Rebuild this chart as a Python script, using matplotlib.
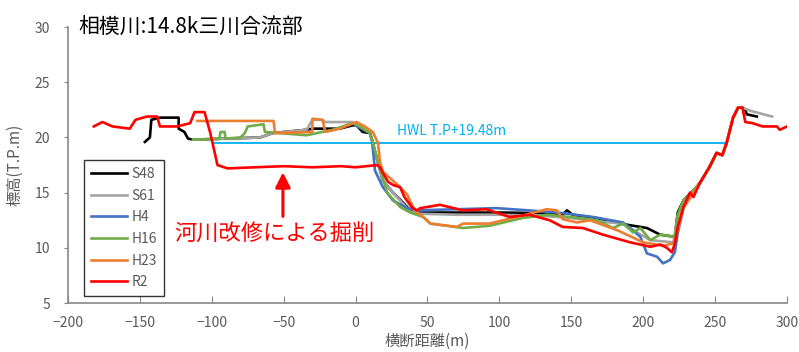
import matplotlib
matplotlib.use("Agg")
from matplotlib import pyplot as plt

plt.rcParams['font.family'] = ['Noto Sans CJK JP', 'DejaVu Sans']

# survey years and cross-section profiles (distance m, elevation T.P.m)
s48_x = [-146.5, -143, -142, -136, -123, -123, -119, -116.5, -113, -66.5, -57.5, -34, -30, -11, -2, 0.6, 5, 10, 12, 15,
         19, 26, 33, 38, 42.7, 70, 100, 130, 144, 147, 151, 168, 184, 202.6, 211.7, 222, 224, 228, 237, 240, 246, 251,
         255, 258, 262.5, 266, 269, 271, 272, 279]
s48_y = [19.6, 20.0, 21.6, 21.8, 21.8, 20.8, 20.5, 19.9, 19.8, 20.0, 20.4, 20.7, 20.8, 20.8, 21.1, 21.1, 20.5, 20.4, 19.5, 18.0,
         16.1, 15.0, 14.1, 13.4, 13.2, 13.2, 13.2, 13.15, 13.0, 13.4, 13.0, 12.7, 12.2, 11.8, 11.2, 11.0, 13.2, 14.3, 15.5, 16.0, 17.3, 18.6,
         18.4, 19.5, 21.8, 22.7, 22.7, 22.5, 22.1, 21.9]

s61_x = [-113, -66.5, -57.5, -34, -30, -23, -21, -2, 3, 10, 12, 15, 19, 26, 33, 38, 42.7, 70, 100, 130, 150, 168, 186,
         193, 205, 221, 224, 228, 237, 240, 246, 251, 255, 258, 262.5, 266, 269, 275, 289.6]
s61_y = [19.8, 20.0, 20.4, 20.7, 21.6, 21.6, 21.4, 21.4, 21.0, 20.4, 19.5, 18.0, 16.1, 15.0, 14.0, 13.3, 13.1, 13.0, 13.0, 12.9, 12.7, 12.4, 12.2,
         11.6, 10.7, 10.5, 12.8, 14.2, 15.4, 16.0, 17.3, 18.6, 18.4, 19.5, 21.8, 22.7, 22.7, 22.4, 21.9]

h4_x = [0, 10, 11.4, 13.5, 19, 26, 35.7, 42.7, 70, 98, 120, 144, 165, 186, 191, 198, 202.6, 209.6, 213.8, 218.6, 222, 224, 228,
        237, 240, 246, 251, 255, 258, 262.5, 266]
h4_y = [21.1, 20.4, 19.8, 17.0, 15.5, 14.3, 13.6, 13.4, 13.5, 13.6, 13.4, 13.15, 12.8, 12.3, 11.8, 11.0, 9.5, 9.2, 8.6, 8.9, 9.6, 11.3, 13.7,
        15.4, 16.0, 17.3, 18.6, 18.4, 19.5, 21.8, 22.7]

h16_x = [-113, -94.5, -94, -91, -90.5, -80, -77, -75, -64, -63, -34, -16, -2, 3, 10, 12, 15, 18, 22, 31, 38, 47, 52, 74.7, 93, 116,
         133, 149, 168, 179, 186, 193, 198, 205, 212, 222, 224, 228, 237, 240, 246, 251, 255, 258, 262.5, 266, 269]
h16_y = [19.8, 19.9, 20.5, 20.5, 19.9, 20.0, 20.4, 21.0, 21.2, 20.5, 20.2, 20.7, 21.3, 21.0, 20.4, 19.6, 18.0, 16.8, 15.0, 13.7, 13.2, 12.8, 12.2, 11.8, 12.0, 12.7,
         13.0, 12.8, 12.5, 11.8, 12.2, 11.4, 11.8, 10.7, 11.2, 11.0, 13.0, 14.3, 15.5, 16.0, 17.3, 18.6, 18.4, 19.5, 21.8, 22.7, 22.7]

h23_x = [-110, -57, -56, -30, -30, -23, -21, -11, 0.7, 6.5, 12, 15.6, 17, 19, 31, 36, 41, 47, 52, 70.5, 74.7, 93, 112, 133, 140,
         144, 154, 163, 182, 200, 214, 221, 223.5, 228, 237, 240, 246, 251, 255, 258, 262.5, 266, 269]
h23_y = [21.5, 21.5, 20.4, 20.5, 21.7, 21.6, 20.5, 20.8, 21.4, 21.0, 20.5, 19.5, 17.8, 16.9, 15.5, 14.8, 13.4, 12.8, 12.2, 11.9, 12.2, 12.2, 12.8, 13.5, 13.4,
         12.6, 12.3, 12.5, 11.6, 10.5, 10.2, 10.4, 11.3, 13.6, 15.4, 16.0, 17.3, 18.6, 18.4, 19.5, 21.8, 22.7, 22.7]

r2_x = [-182, -176, -169, -157, -153, -145, -138, -136, -124, -115, -112, -105, -101, -96, -89, -70, -50, -30, -10, 0, 15, 17,
        19, 22.5, 26, 31, 34, 39, 42.7, 45, 58.7, 74.7, 91, 107, 121, 135, 144, 158, 172, 191, 205, 212, 216.5, 220, 222,
        224, 228, 232.5, 235, 237, 239.5, 246, 251, 255, 258, 262.5, 266, 269, 271, 276, 283, 293, 295, 300]
r2_y = [21.0, 21.4, 21.0, 20.8, 21.6, 21.9, 21.9, 21.0, 21.0, 21.3, 22.3, 22.3, 20.4, 17.5, 17.2, 17.3, 17.4, 17.3, 17.4, 17.3, 17.5, 17.3,
        16.8, 16.0, 15.7, 15.5, 14.6, 13.7, 13.4, 13.6, 13.9, 13.4, 13.5, 12.8, 13.0, 12.5, 11.9, 11.8, 11.2, 10.5, 10.1, 10.3, 10.0, 9.6, 10.4,
        11.9, 13.7, 15.0, 14.6, 15.2, 15.9, 17.3, 18.6, 18.4, 19.5, 21.8, 22.7, 22.7, 21.4, 21.3, 21.0, 21.0, 20.7, 21.0]

series = [
    ("S48", s48_x, s48_y, "#000000"),
    ("S61", s61_x, s61_y, "#A5A5A5"),
    ("H4", h4_x, h4_y, "#4472C4"),
    ("H16", h16_x, h16_y, "#70AD47"),
    ("H23", h23_x, h23_y, "#ED7D31"),
    ("R2", r2_x, r2_y, "#FF0000"),
]

hwl = 19.48
hwl_range = [-99, 257]

fig = plt.figure(figsize=(7.99, 3.52), dpi=100)
ax = fig.add_axes([0.085, 0.139, 0.9, 0.784])

for name, xs, ys, c in series:
    ax.plot(xs, ys, color=c, lw=1.9, label=name, zorder=3 if name != "R2" else 4)

ax.plot(hwl_range, [hwl, hwl], color="#00B0F0", lw=1.3, zorder=2)
ax.text(29, 20.6, "HWL T.P+19.48m", color="#00B0F0", fontsize=10, va="center")

ax.annotate("", xy=(-50.5, 17.1), xytext=(-50.5, 12.6),
            arrowprops=dict(arrowstyle="-|>,head_length=0.9,head_width=0.45", color="#FF0000", lw=2.2))
ax.text(-126, 11.3, "河川改修による掘削", color="#FF0000", fontsize=16, va="center")

ax.text(0.014, 1.0, "相模川:14.8k三川合流部", transform=ax.transAxes, fontsize=15, va="center")

ax.set_xlim(-200, 300)
ax.set_ylim(5, 30)
ax.set_xticks(range(-200, 301, 50))
ax.set_yticks(range(5, 31, 5))
ax.set_xlabel("横断距離(m)", fontsize=11, color="#595959", labelpad=2)
ax.set_ylabel("標高(T.P.m)", fontsize=11, color="#595959", labelpad=8)

for s in ["top", "right"]:
    ax.spines[s].set_visible(False)
for s in ["left", "bottom"]:
    ax.spines[s].set_color("#888888")
    ax.spines[s].set_linewidth(1.2)
ax.tick_params(axis="x", direction="in", length=5, pad=9, colors="#888888", labelcolor="#595959", labelsize=10)
ax.tick_params(axis="y", direction="out", length=3, pad=10, colors="#888888", labelcolor="#595959", labelsize=10)

leg = ax.legend(loc="lower left", bbox_to_anchor=(0.013, 0.0), fontsize=10, frameon=True, fancybox=False,
                handlelength=2.6, labelspacing=0.55, borderpad=0.5, handletextpad=0.3)
leg.get_frame().set_edgecolor("#000000")
leg.get_frame().set_linewidth(1.0)
for t in leg.get_texts():
    t.set_color("#595959")

fig.savefig("out.png", dpi=100)
